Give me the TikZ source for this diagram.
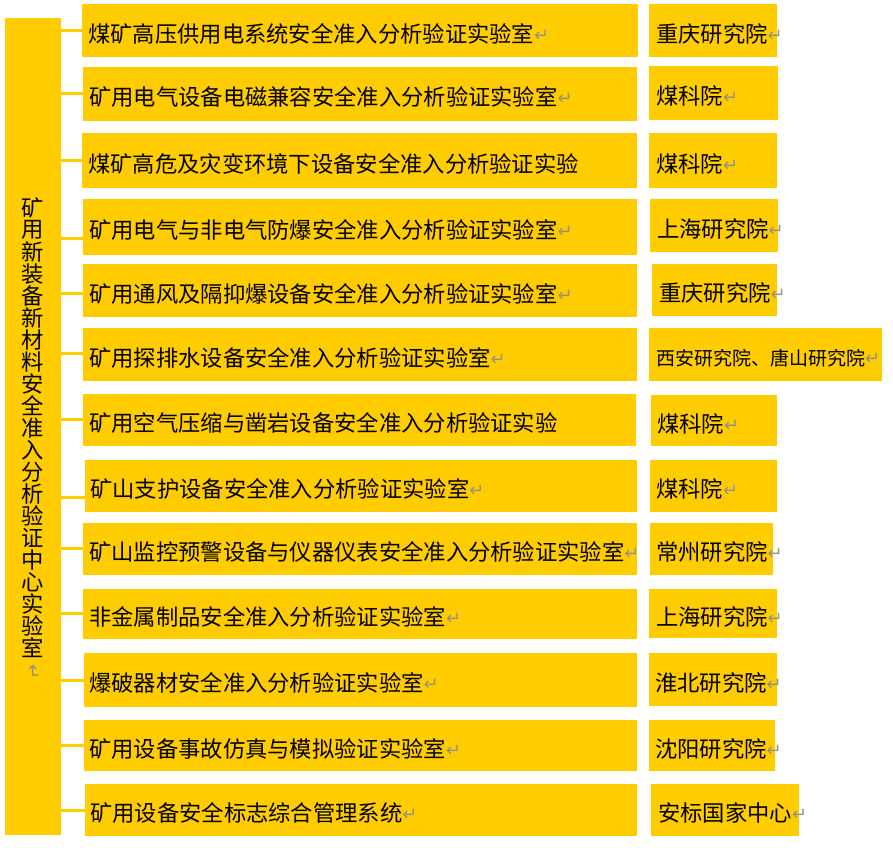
\documentclass[tikz,border=0pt]{standalone}
\usepackage{fontspec}
\usepackage{graphicx}
\setmainfont{Noto Sans CJK SC}
\newfontfamily\symfont{DejaVu Sans}
\definecolor{ybox}{RGB}{255,204,0}
\definecolor{markgray}{RGB}{150,148,130}
\newcommand\retmark{{\symfont\fontsize{18}{18}\selectfont\color{markgray}\raisebox{1pt}{↵}}}
\newcommand\ybx[5]{\node[box, minimum width={#4-#2}, minimum height={#5-#3}] (#1) at (#2,#3) {};}
\tikzset{
  box/.style={fill=ybox, draw=none, inner sep=0pt, anchor=north west},
  conn/.style={draw=ybox, line width=3pt},
  midtxt/.style={anchor=west, inner sep=0pt, font=\fontsize{22.3}{22.3}\selectfont},
  smalltxt/.style={anchor=west, inner sep=0pt, font=\fontsize{19}{19}\selectfont},
  vtxt/.style={inner sep=0pt, font=\fontsize{22.3}{22.3}\selectfont}
}
\begin{document}
\begin{tikzpicture}[x=1pt,y=-1pt]
\useasboundingbox (0,0) rectangle (893,847);
\fill[white] (0,0) rectangle (893,847);
% left box
\ybx{L}{5}{18}{61}{835}
\foreach \c [count=\i from 0] in {矿,用,新,装,备,新,材,料,安,全,准,入,分,析,验,证,中,心,实,验,室}
  \node[vtxt] (v\i) at (33,{208+22*\i}) {\c};
\node[vtxt] (vm) at (33,672) {\rotatebox{-90}{\retmark}};
% middle boxes
\ybx{m1}{82}{4}{638}{57}
\ybx{m2}{83}{67}{637}{121}
\ybx{m3}{82}{133}{637}{188}
\ybx{m4}{83}{199}{637}{255}
\ybx{m5}{83}{264}{637}{317}
\ybx{m6}{83}{328}{637}{381}
\ybx{m7}{83}{394}{636}{446}
\ybx{m8}{85}{460}{637}{512}
\ybx{m9}{83}{523}{637}{575}
\ybx{m10}{83}{589}{637}{639}
\ybx{m11}{84}{653}{637}{707}
\ybx{m12}{84}{720}{637}{771}
\ybx{m13}{85}{784}{637}{836}
% right boxes
\ybx{r1}{649}{4}{777}{57}
\ybx{r2}{649}{66}{778}{120}
\ybx{r3}{649}{133}{777}{188}
\ybx{r4}{650}{199}{778}{252}
\ybx{r5}{652}{264}{777}{316}
\ybx{r6}{649}{328}{882}{381}
\ybx{r7}{651}{395}{777}{446}
\ybx{r8}{650}{460}{777}{512}
\ybx{r9}{650}{523}{773}{575}
\ybx{r10}{649}{589}{777}{638}
\ybx{r11}{649}{653}{777}{706}
\ybx{r12}{649}{720}{775}{771}
\ybx{r13}{651}{784}{799}{836}
% middle texts
\node[midtxt] (t1) at ([xshift=6pt,yshift=-3pt]m1.west) {煤矿高压供用电系统安全准入分析验证实验室\retmark};
\node[midtxt] (t2) at ([xshift=6pt,yshift=-3pt]m2.west) {矿用电气设备电磁兼容安全准入分析验证实验室\retmark};
\node[midtxt] (t3) at ([xshift=6pt,yshift=-3pt]m3.west) {煤矿高危及灾变环境下设备安全准入分析验证实验};
\node[midtxt] (t4) at ([xshift=6pt,yshift=-3pt]m4.west) {矿用电气与非电气防爆安全准入分析验证实验室\retmark};
\node[midtxt] (t5) at ([xshift=6pt,yshift=-3pt]m5.west) {矿用通风及隔抑爆设备安全准入分析验证实验室\retmark};
\node[midtxt] (t6) at ([xshift=6pt,yshift=-3pt]m6.west) {矿用探排水设备安全准入分析验证实验室\retmark};
\node[midtxt] (t7) at ([xshift=6pt,yshift=-3pt]m7.west) {矿用空气压缩与凿岩设备安全准入分析验证实验};
\node[midtxt] (t8) at ([xshift=5pt,yshift=-3pt]m8.west) {矿山支护设备安全准入分析验证实验室\retmark};
\node[midtxt] (t9) at ([xshift=6pt,yshift=-3pt]m9.west) {矿山监控预警设备与仪器仪表安全准入分析验证实验室\retmark};
\node[midtxt] (t10) at ([xshift=6pt,yshift=-3pt]m10.west) {非金属制品安全准入分析验证实验室\retmark};
\node[midtxt] (t11) at ([xshift=5pt,yshift=-3pt]m11.west) {爆破器材安全准入分析验证实验室\retmark};
\node[midtxt] (t12) at ([xshift=5pt,yshift=-3pt]m12.west) {矿用设备事故仿真与模拟验证实验室\retmark};
\node[midtxt] (t13) at ([xshift=5pt,yshift=-3pt]m13.west) {矿用设备安全标志综合管理系统\retmark};
% right texts
\node[midtxt] (u1) at ([xshift=7pt,yshift=-3pt]r1.west) {重庆研究院\retmark};
\node[midtxt] (u2) at ([xshift=7pt,yshift=-3pt]r2.west) {煤科院\retmark};
\node[midtxt] (u3) at ([xshift=7pt,yshift=-3pt]r3.west) {煤科院\retmark};
\node[midtxt] (u4) at ([xshift=7pt,yshift=-3pt]r4.west) {上海研究院\retmark};
\node[midtxt] (u5) at ([xshift=7pt,yshift=-3pt]r5.west) {重庆研究院\retmark};
\node[smalltxt] (u6) at ([xshift=7pt,yshift=-3pt]r6.west) {西安研究院、唐山研究院\retmark};
\node[midtxt] (u7) at ([xshift=6pt,yshift=-3pt]r7.west) {煤科院\retmark};
\node[midtxt] (u8) at ([xshift=6pt,yshift=-3pt]r8.west) {煤科院\retmark};
\node[midtxt] (u9) at ([xshift=6pt,yshift=-3pt]r9.west) {常州研究院\retmark};
\node[midtxt] (u10) at ([xshift=7pt,yshift=-3pt]r10.west) {上海研究院\retmark};
\node[midtxt] (u11) at ([xshift=6pt,yshift=-3pt]r11.west) {淮北研究院\retmark};
\node[midtxt] (u12) at ([xshift=6pt,yshift=-3pt]r12.west) {沈阳研究院\retmark};
\node[midtxt] (u13) at ([xshift=7pt,yshift=-3pt]r13.west) {安标国家中心\retmark};
% connectors
\coordinate (k1) at (83,30);
\coordinate (k2) at (83,93);
\coordinate (k3) at (83,160);
\coordinate (k4) at (83,238);
\coordinate (k5) at (83,293);
\coordinate (k6) at (83,353);
\coordinate (k7) at (83,419);
\coordinate (k8) at (83,497);
\coordinate (k9) at (83,548);
\coordinate (k10) at (83,613);
\coordinate (k11) at (83,680);
\coordinate (k12) at (83,745);
\coordinate (k13) at (83,810);
\foreach \i in {1,...,13}
  \draw[conn] (L.east |- k\i) -- (m\i.west |- k\i);
\end{tikzpicture}
\end{document}
